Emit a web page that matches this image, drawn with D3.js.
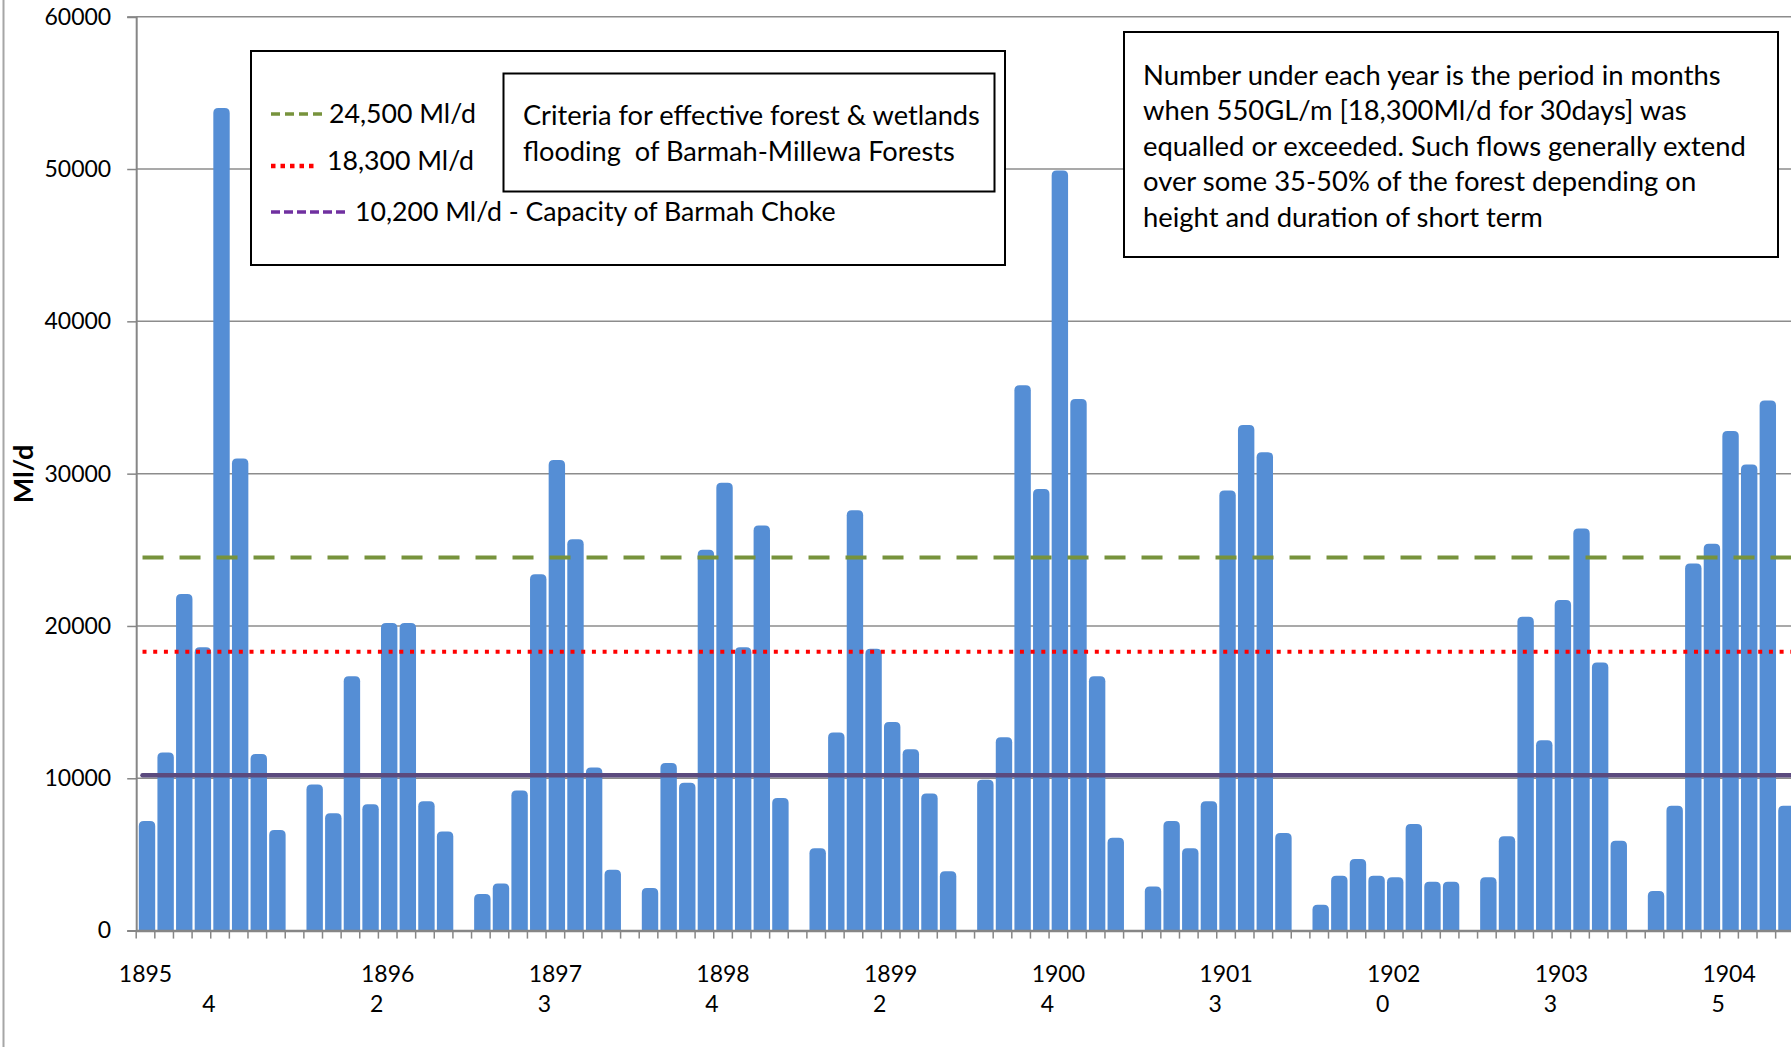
<!DOCTYPE html>
<html>
<head>
<meta charset="utf-8">
<script src="https://cdn.jsdelivr.net/npm/d3@7/dist/d3.min.js"></script>
<style>
  html, body { margin: 0; padding: 0; background: #ffffff; }
  svg { display: block; }
  text { font-family: Lato, "Open Sans", sans-serif; fill: #000; }
</style>
</head>
<body>
<svg id="chart" width="1791" height="1047"></svg>
<script>
// ---------------- DATA ----------------
const years = ["1895", "1896", "1897", "1898", "1899", "1900", "1901", "1902", "1903", "1904"];
// category index (within each year's group) where the year label is written
const yearLabelIndex = [0, 4, 4, 4, 4, 4, 4, 4, 4, 4];
// months when 550GL/m was equalled or exceeded
const monthsExceeded = [4, 2, 3, 4, 2, 4, 3, 0, 3, 5];
// monthly peak flows (Ml/d), 8 months shown per year, one blank category between years
const flow1895 = [7200, 11700, 22100, 18600, 54000, 31000, 11600, 6600];
const flow1896 = [9600, 7700, 16700, 8300, 20200, 20200, 8500, 6500];
const flow1897 = [2400, 3100, 9200, 23400, 30900, 25700, 10700, 4000];
const flow1898 = [2800, 11000, 9700, 25000, 29400, 18600, 26600, 8700];
const flow1899 = [5400, 13000, 27600, 18500, 13700, 11900, 9000, 3900];
const flow1900 = [9900, 12700, 35800, 29000, 49900, 34900, 16700, 6100];
const flow1901 = [2900, 7200, 5400, 8500, 28900, 33200, 31400, 6400];
const flow1902 = [1700, 3600, 4700, 3600, 3500, 7000, 3200, 3200];
const flow1903 = [3500, 6200, 20600, 12500, 21700, 26400, 17600, 5900];
const flow1904 = [2600, 8200, 24100, 25400, 32800, 30600, 34800, 8200];
const flowsByYear = [flow1895, flow1896, flow1897, flow1898, flow1899, flow1900, flow1901, flow1902, flow1903, flow1904];
const yTicks = [0, 10000, 20000, 30000, 40000, 50000, 60000];
const thresholds = [24500, 18300, 10200];
const legendLabels = ["24,500 Ml/d", "18,300 Ml/d", "10,200 Ml/d - Capacity of Barmah Choke"];
const criteriaText = ["Criteria for effective forest & wetlands", "flooding  of Barmah-Millewa Forests"];
const noteText = [
  "Number under each year is the period in months",
  "when 550GL/m [18,300Ml/d for 30days] was",
  "equalled or exceeded. Such flows generally extend",
  "over some 35-50% of the forest depending on",
  "height and duration of short term"
];
const yAxisTitle = "Ml/d";

// ---------------- BUILD CATEGORIES ----------------
const groupSize = 9; // 8 months + 1 blank
const categories = [];
flowsByYear.forEach((arr, yi) => {
  arr.forEach((v, mi) => categories.push({ year: yi, month: mi, value: v }));
  categories.push({ year: yi, month: 8, value: null });
});

// ---------------- LAYOUT ----------------
const W = 1791, H = 1047;
const x0 = 136.2, step = 18.63;
const yTop = 16.7, yBase = 930.6;

const svg = d3.select("#chart");

const x = d3.scaleBand()
  .domain(d3.range(categories.length))
  .range([x0, x0 + step * categories.length])
  .paddingInner(0).paddingOuter(0);

const y = d3.scaleLinear().domain([0, 60000]).range([yBase, yTop]);

// left frame line of chart area
svg.append("line").attr("x1", 3.5).attr("x2", 3.5).attr("y1", 0).attr("y2", H)
  .attr("stroke", "#a6a6a6").attr("stroke-width", 2);

// gridlines
svg.append("g").selectAll("line").data(yTicks.filter(d => d > 0)).join("line")
  .attr("x1", x0).attr("x2", W)
  .attr("y1", d => y(d)).attr("y2", d => y(d))
  .attr("stroke", "#8c8c8c").attr("stroke-width", 1.5);

// y axis
const yAxis = d3.axisLeft(y).tickValues(yTicks).tickSize(9).tickPadding(16).tickFormat(d3.format("d"));
const gy = svg.append("g").attr("transform", `translate(${x0},0)`).call(yAxis);
gy.select(".domain").attr("stroke", "#868686").attr("stroke-width", 2);
gy.selectAll(".tick line").attr("stroke", "#868686").attr("stroke-width", 1.5);
gy.selectAll(".tick text").style("font-size", "23px").style("font-family", "Lato, sans-serif").attr("fill", "#000");

// bars with rounded tops
const bw = 16.4, bOff = 2.6, r = 5;
function barPath(xl, yt, w, yb) {
  const rr = Math.min(r, (yb - yt));
  return `M${xl},${yb}V${yt + rr}Q${xl},${yt} ${xl + rr},${yt}H${xl + w - rr}Q${xl + w},${yt} ${xl + w},${yt + rr}V${yb}Z`;
}
svg.append("g").selectAll("path").data(categories.map((c, i) => ({ ...c, i })).filter(c => c.value != null)).join("path")
  .attr("d", d => barPath(x(d.i) + bOff, y(d.value), bw, y(0)))
  .attr("fill", "#558ed5");

// x axis
const xAxis = d3.axisBottom(x).tickSize(0).tickFormat("");
const gx = svg.append("g").attr("transform", `translate(0,${yBase})`).call(xAxis);
gx.select(".domain").attr("stroke", "#868686").attr("stroke-width", 2.5);
gx.selectAll(".tick").remove();
// category boundary ticks
svg.append("g").selectAll("line").data(d3.range(categories.length + 1)).join("line")
  .attr("x1", i => x0 + i * x.step()).attr("x2", i => x0 + i * x.step())
  .attr("y1", yBase).attr("y2", yBase + 8)
  .attr("stroke", "#868686").attr("stroke-width", 1.5);

// year labels & month counts
years.forEach((yr, yi) => {
  const idx = yi * groupSize + yearLabelIndex[yi];
  const cx = x(idx) + x.bandwidth() / 2;
  svg.append("text").attr("x", cx).attr("y", 982).attr("text-anchor", "middle")
    .style("font-size", "23px").text(yr);
  const cidx = yi * groupSize + 4;
  const ccx = x(cidx) + x.bandwidth() / 2 - 11;
  svg.append("text").attr("x", ccx).attr("y", 1012).attr("text-anchor", "middle")
    .style("font-size", "23px").text(monthsExceeded[yi]);
});

// threshold lines
const lineStart = x(0) + x.bandwidth() / 2 - 3;
const lineStyles = [
  { color: "#77933c", dash: "21 16", cap: "butt", w: 4 },
  { color: "#ff0000", dash: "4 6.7", cap: "butt", w: 4 },
  { color: "#5b4a7e", dash: null, cap: "round", w: 4.5 }
];
thresholds.forEach((t, i) => {
  const s = lineStyles[i];
  const l = svg.append("line").attr("x1", lineStart).attr("x2", W + 40)
    .attr("y1", y(t)).attr("y2", y(t))
    .attr("stroke", s.color).attr("stroke-width", s.w).attr("stroke-linecap", s.cap);
  if (s.dash) l.attr("stroke-dasharray", s.dash);
});

// y axis title
svg.append("text").attr("transform", "translate(33,474) rotate(-90)")
  .attr("text-anchor", "middle").style("font-size", "27px").style("font-weight", "bold")
  .text(yAxisTitle);

// ---------------- LEGEND BOX ----------------
svg.append("rect").attr("x", 251).attr("y", 51).attr("width", 754).attr("height", 214)
  .attr("fill", "#fff").attr("stroke", "#000").attr("stroke-width", 2);
const legY = [114, 166, 212];
const legTextY = [114, 161, 212];
const legLineX2 = [323, 318, 348];
const legTextX = [329, 327, 355];
const legStyles = [
  { color: "#77933c", dash: "9 5", w: 3.5 },
  { color: "#ff0000", dash: "4.5 5", w: 4.5 },
  { color: "#7030a0", dash: "9 4", w: 3.5 }
];
legendLabels.forEach((lab, i) => {
  svg.append("line").attr("x1", 271).attr("x2", legLineX2[i])
    .attr("y1", legY[i]).attr("y2", legY[i])
    .attr("stroke", legStyles[i].color).attr("stroke-width", legStyles[i].w)
    .attr("stroke-dasharray", legStyles[i].dash);
  svg.append("text").attr("x", legTextX[i]).attr("y", legTextY[i]).attr("dy", "0.35em")
    .style("font-size", "26.7px").text(lab);
});
svg.append("rect").attr("x", 503.5).attr("y", 73.5).attr("width", 491).attr("height", 118)
  .attr("fill", "#fff").attr("stroke", "#000").attr("stroke-width", 2);
criteriaText.forEach((t, i) => {
  svg.append("text").attr("x", 523).attr("y", 115 + i * 36).attr("dy", "0.35em")
    .style("font-size", "27.2px").style("white-space", "pre").text(t);
});

// ---------------- NOTE BOX ----------------
svg.append("rect").attr("x", 1124).attr("y", 32).attr("width", 654).attr("height", 225)
  .attr("fill", "#fff").attr("stroke", "#000").attr("stroke-width", 2);
noteText.forEach((t, i) => {
  svg.append("text").attr("x", 1143).attr("y", 75 + i * 35.6).attr("dy", "0.35em")
    .style("font-size", "27.4px").text(t);
});
</script>
</body>
</html>
